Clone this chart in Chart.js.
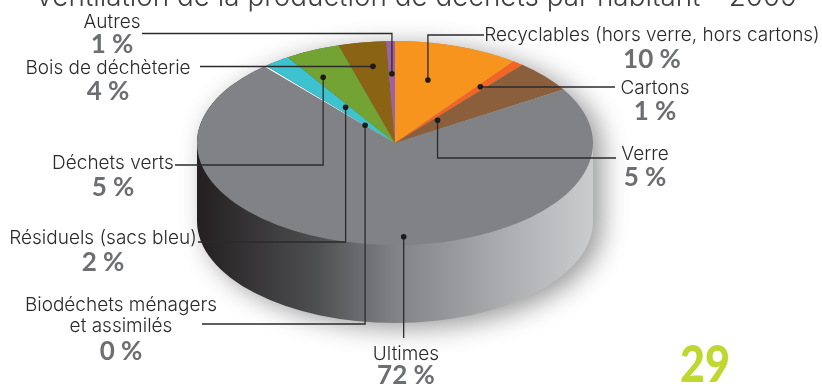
<!DOCTYPE html>
<html>
<head>
<meta charset="utf-8">
<title>Ventilation de la production de déchets</title>
<script src="https://cdn.jsdelivr.net/npm/chart.js@4/dist/chart.umd.min.js"></script>
<style>
  html, body { margin:0; padding:0; background:#fff; overflow:hidden; }
  canvas { display:block; }
</style>
</head>
<body>
<canvas id="pie" width="822" height="385"></canvas>
<script>
const TITLE = 'Ventilation de la production de déchets par habitant - 2009';
const PAGE = '29';

const categories = ['Recyclables (hors verre, hors cartons)', 'Cartons', 'Verre', 'Ultimes',
  'Biodéchets ménagers\net assimilés', 'Résiduels (sacs bleu)', 'Déchets verts', 'Bois de déchèterie', 'Autres'];
const shares = [10.2, 0.9, 5.1, 72.3, 0.2, 2.2, 4.5, 3.9, 0.7];
const percents = [10, 1, 5, 72, 0, 2, 5, 4, 1];
const colors = ['#f7941d', '#f26522', '#8b5e3c', '#808285', '#ffffff', '#3dc2d0', '#72a333', '#8a6414', '#9b62a8'];

const SQUASH = 0.515;   // ellipse du dessus
const DEPTH = 78;       // hauteur du cylindre
const RADIUS = 198;

const INK = '#2b2a2c';
const NAME_FONT = '300 19px Inter, "Open Sans", sans-serif';
const PCT_FONT = 'bold 26px Lato, "Open Sans", sans-serif';

// t = position dans la part, r = fraction du rayon, end = bout du trait, row = hauteur du coude
const leaders = [
  { t:.41,  r:.64, end:484, row:35 },
  { t:.40,  r:.70, end:615, row:87 },
  { t:.215, r:.31, end:616, row:158 },
  { t:.457, r:.92, row:338, vertical:true },
  { t:.50,  r:.23, end:202, row:324 },
  { t:.66,  r:.43, end:198, row:242 },
  { t:.21,  r:.74, end:175, row:165 },
  { t:.58,  r:.76, end:200, row:66.5 },
  { t:.48,  r:.68, end:142, row:33.5 }
];

// centre du texte, ligne de base du nom, ligne de base du pourcentage
const labelSpots = [
  { x:652, y:41,  py:68 },
  { x:655, y:94,  py:120 },
  { x:645, y:160, py:186 },
  { x:406, y:360, py:384 },
  { x:121, y:311, py:360 },
  { x:103, y:244, py:271 },
  { x:113, y:169, py:196 },
  { x:108, y:74,  py:100 },
  { x:112, y:28,  py:53 }
];

const cylinderPlugin = {
  id:'cylinder',
  beforeDatasetsDraw(chart){
    const ctx = chart.ctx;
    const { x:cx, y:cy } = chart.getDatasetMeta(0).data[0];
    const ry = RADIUS * SQUASH;
    const g = ctx.createLinearGradient(cx - RADIUS, 0, cx + RADIUS, 0);
    g.addColorStop(0, '#231f20');
    g.addColorStop(.3, '#4d4e50');
    g.addColorStop(.5, '#808285');
    g.addColorStop(.75, '#a7a9ac');
    g.addColorStop(1, '#caccce');
    ctx.save();
    ctx.shadowColor = 'rgba(0,0,0,.4)';
    ctx.shadowBlur = 26;
    ctx.shadowOffsetX = 9;
    ctx.shadowOffsetY = 5;
    ctx.fillStyle = g;
    ctx.beginPath();
    ctx.ellipse(cx, cy, RADIUS, ry, 0, Math.PI, 0);
    ctx.lineTo(cx + RADIUS, cy + DEPTH);
    ctx.ellipse(cx, cy + DEPTH, RADIUS, ry, 0, 0, Math.PI);
    ctx.closePath();
    ctx.fill();
    ctx.restore();
  },
  beforeDatasetDraw(chart){
    const ctx = chart.ctx;
    const { x:cx, y:cy } = chart.getDatasetMeta(0).data[0];
    ctx.save();
    ctx.translate(cx, cy);
    ctx.scale(1, SQUASH);
    ctx.translate(-cx, -cy);
  },
  afterDatasetDraw(chart){
    chart.ctx.restore();
  }
};

function spot(arc, t, r){
  const a = arc.startAngle + t * (arc.endAngle - arc.startAngle);
  return { x: arc.x + r * arc.outerRadius * Math.cos(a), y: arc.y + r * arc.outerRadius * Math.sin(a) * SQUASH };
}

const calloutPlugin = {
  id:'callouts',
  afterDatasetsDraw(chart){
    const ctx = chart.ctx;
    const arcs = chart.getDatasetMeta(0).data;
    ctx.save();
    ctx.strokeStyle = INK;
    ctx.fillStyle = '#1c1a1b';
    ctx.lineWidth = 1.3;
    leaders.forEach((l, i) => {
      const p = spot(arcs[i], l.t, l.r);
      ctx.beginPath();
      ctx.moveTo(p.x, p.y);
      ctx.lineTo(p.x, l.row);
      if (!l.vertical) ctx.lineTo(l.end, l.row);
      ctx.stroke();
      ctx.beginPath();
      ctx.arc(p.x, p.y, 2.8, 0, Math.PI * 2);
      ctx.fill();
    });
    ctx.restore();
  },
  afterDraw(chart){
    const ctx = chart.ctx;
    ctx.save();
    ctx.textAlign = 'center';
    ctx.textBaseline = 'alphabetic';

    ctx.fillStyle = '#3f3f41';
    ctx.font = '300 28px Inter, "Open Sans", sans-serif';
    ctx.fillText(TITLE, 416, 6, 762);

    categories.forEach((name, i) => {
      const s = labelSpots[i];
      ctx.fillStyle = INK;
      ctx.font = NAME_FONT;
      name.split('\n').forEach((line, n) => ctx.fillText(line, s.x, s.y + n * 21));
      ctx.fillStyle = '#6d6e71';
      ctx.font = PCT_FONT;
      ctx.fillText(percents[i] + ' %', s.x, s.py);
    });

    ctx.fillStyle = '#bfd730';
    ctx.font = '900 52px Lato, "Open Sans", sans-serif';
    ctx.fillText(PAGE, 705, 382, 50);
    ctx.restore();
  }
};

new Chart(document.getElementById('pie'), {
  type:'pie',
  data:{
    labels: categories,
    datasets:[{ data: shares, backgroundColor: colors, borderWidth:0, clip:false }]
  },
  options:{
    responsive:false,
    animation:false,
    radius: RADIUS,
    layout:{ padding:{ right:32, bottom:99 } },
    plugins:{ legend:{ display:false }, tooltip:{ enabled:false }, title:{ display:false } }
  },
  plugins:[cylinderPlugin, calloutPlugin]
});
</script>
</body>
</html>
